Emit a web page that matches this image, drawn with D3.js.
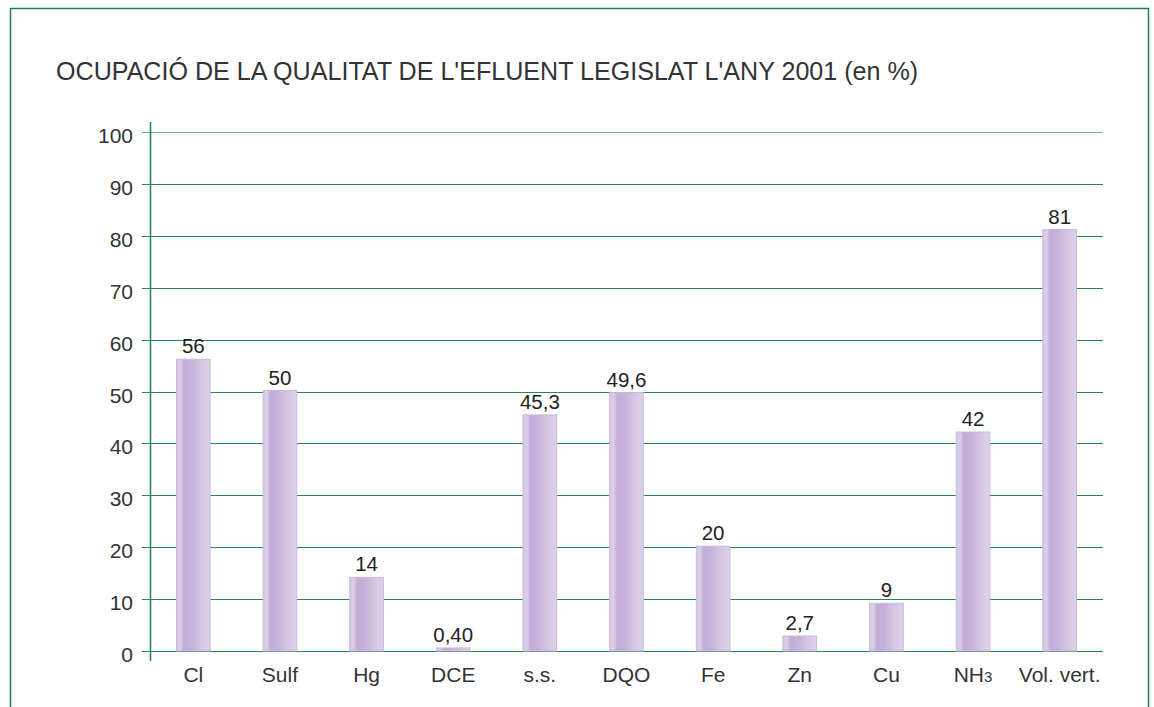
<!DOCTYPE html>
<html>
<head>
<meta charset="utf-8">
<script src="https://cdn.jsdelivr.net/npm/d3@7"></script>
<style>
  body { margin: 0; background: #fff; }
  text { font-family: "Liberation Sans", Arial, sans-serif; }
</style>
</head>
<body>
<div id="chart"></div>
<script>
// ---------------------------------------------
// ---------        Data              ----------
// ---------------------------------------------
var categories = ["Cl", "Sulf", "Hg", "DCE", "s.s.", "DQO", "Fe", "Zn", "Cu", "NH3", "Vol. vert."];
var values = [56, 50, 14, 0.40, 45.3, 49.6, 20, 2.7, 9, 42, 81];
var valueLabels = ["56", "50", "14", "0,40", "45,3", "49,6", "20", "2,7", "9", "42", "81"];
var yTicks = [0, 10, 20, 30, 40, 50, 60, 70, 80, 90, 100];
var title = "OCUPACIÓ DE LA QUALITAT DE L'EFLUENT LEGISLAT L'ANY 2001 (en %)";

var width = 1154, height = 707;
var margin = { left: 150, right: 51, top: 132, bottom: 56 };
var plotW = width - margin.left - margin.right;
var plotH = height - margin.top - margin.bottom;

var svg = d3.select("#chart")
  .append("svg")
    .attr("width", width)
    .attr("height", height);

// frame
svg.append("path")
  .attr("d", "M10.5,712 V8.5 H1148.5 V712")
  .attr("fill", "none")
  .attr("stroke", "#1e8050")
  .attr("stroke-width", 1.5);

// title
svg.append("text")
  .attr("x", 56)
  .attr("y", 80)
  .attr("font-size", 25.1)
  .attr("fill", "#333")
  .text(title);

// gradient for bars
var defs = svg.append("defs");
var grad = defs.append("linearGradient")
  .attr("id", "barGrad")
  .attr("x1", "0%").attr("x2", "100%").attr("y1", "0%").attr("y2", "0%");
grad.append("stop").attr("offset", "0%").attr("stop-color", "#d5c7e3");
grad.append("stop").attr("offset", "12%").attr("stop-color", "#dccfe9");
grad.append("stop").attr("offset", "22%").attr("stop-color", "#c3acd7");
grad.append("stop").attr("offset", "45%").attr("stop-color", "#c7b2da");
grad.append("stop").attr("offset", "75%").attr("stop-color", "#d6c8e4");
grad.append("stop").attr("offset", "100%").attr("stop-color", "#dcd1ea");

var g = svg.append("g")
  .attr("transform", "translate(" + margin.left + "," + margin.top + ")");

// scales
var x = d3.scaleBand().domain(categories).range([0, plotW]).paddingInner(0.6).paddingOuter(0.3);
var y = d3.scaleLinear().domain([0, 100]).range([plotH, 0]);

// grid lines
g.append("g")
  .selectAll("line")
  .data(yTicks)
  .join("line")
    .attr("x1", -8)
    .attr("x2", plotW)
    .attr("y1", d => Math.round(y(d)) + 0.5)
    .attr("y2", d => Math.round(y(d)) + 0.5)
    .attr("stroke", d => d === 100 ? "#6db38f" : "#2a8457")
    .attr("stroke-width", 1.2);

// y axis line
g.append("line")
  .attr("x1", 0.5).attr("x2", 0.5)
  .attr("y1", y(100) - 10)
  .attr("y2", y(0) + 10)
  .attr("stroke", "#1e8050")
  .attr("stroke-width", 1.5);

// y tick labels
g.append("g")
  .selectAll("text")
  .data(yTicks)
  .join("text")
    .attr("x", -17)
    .attr("y", d => y(d) + 11)
    .attr("text-anchor", "end")
    .attr("font-size", 21)
    .attr("fill", "#333")
    .text(d => d);

// bars
g.append("g")
  .selectAll("rect")
  .data(values)
  .join("rect")
    .attr("x", (d, i) => x(categories[i]) + 0.5)
    .attr("y", d => y(d) - 1)
    .attr("width", x.bandwidth() - 1)
    .attr("height", d => y(0) - y(d) + 1)
    .attr("fill", "url(#barGrad)")
    .attr("stroke", "#cbb9dd")
    .attr("stroke-width", 1);

// value labels
g.append("g")
  .selectAll("text")
  .data(values)
  .join("text")
    .attr("x", (d, i) => x(categories[i]) + x.bandwidth() / 2)
    .attr("y", d => y(d) - 7)
    .attr("text-anchor", "middle")
    .attr("font-size", 20.5)
    .attr("fill", "#222")
    .text((d, i) => valueLabels[i]);

// category labels
var cat = g.append("g")
  .selectAll("text")
  .data(categories)
  .join("text")
    .attr("x", d => x(d) + x.bandwidth() / 2)
    .attr("y", y(0) + 31)
    .attr("text-anchor", "middle")
    .attr("font-size", 21)
    .attr("fill", "#333");

cat.each(function(d) {
  var t = d3.select(this);
  if (d === "NH3") {
    t.append("tspan").text("NH");
    t.append("tspan").attr("font-size", 15).text("3");
  } else {
    t.text(d);
  }
});
</script>
</body>
</html>
